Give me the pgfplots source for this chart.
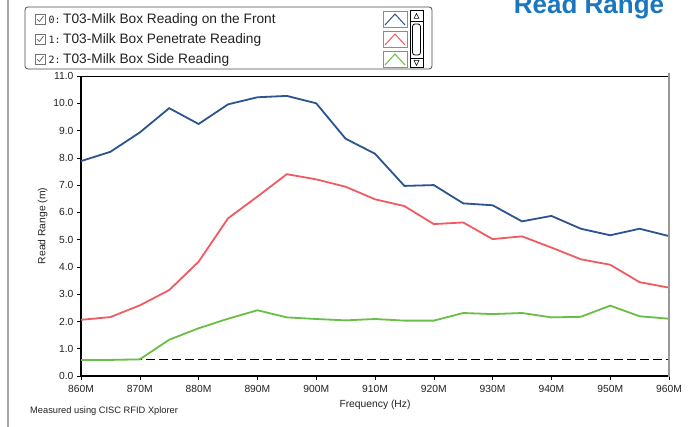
\documentclass[border=0pt]{standalone}
\usepackage{pgfplots}
\pgfplotsset{compat=1.18}
\usepackage{fontspec}
\setmainfont{Liberation Sans}
\newfontfamily\monofont{DejaVu Sans Mono}
\definecolor{cblue}{HTML}{2B5490}
\definecolor{cred}{HTML}{EF5B61}
\definecolor{cgreen}{HTML}{6BBE45}
\definecolor{ctitle}{HTML}{1A76BF}
\definecolor{ctext}{HTML}{222222}
\begin{document}
\begin{tikzpicture}[x=1pt,y=1pt]
\clip (0,0) rectangle (700,426);
\fill[white] (0,0) rectangle (700,426);
\draw[gray!70, line width=1.5pt] (8,-2) -- (8,428);
% title
\node[anchor=base, text=ctitle, font=\fontsize{26}{26}\selectfont\bfseries] at (589,412) {Read Range};
% legend box
\draw[black!70, line width=0.8pt, rounded corners=3pt] (25,357) rectangle (432,419);
\foreach \yb/\num/\txt in {402/0/T03-Milk Box Reading on the Front, 382/1/T03-Milk Box Penetrate Reading, 362/2/T03-Milk Box Side Reading}{
  \draw[black!55, line width=0.6pt] (35,\yb) rectangle (45,\yb+10);
  \draw[black!70, line width=0.6pt] (37,\yb+5) -- (39.5,\yb+2.5) -- (43.5,\yb+8);
  \node[anchor=base west, inner sep=0pt, font=\monofont\fontsize{10}{10}\selectfont, text=ctext] at (48.5,\yb) {\num:};
  \node[anchor=base west, inner sep=0pt, font=\fontsize{13.7}{14}\selectfont, text=ctext] at (63,\yb) {\txt};
}
\foreach \yl/\col in {399/cblue, 379/cred, 359/cgreen}{
  \draw[black!45, line width=0.7pt] (383,\yl) rectangle (407,\yl+16);
  \draw[\col, line width=1pt] (385,\yl+2) -- (395,\yl+13) -- (405,\yl+2);
}
\draw[black, line width=1pt] (410,358) rectangle (423,415);
\draw[black, line width=0.8pt] (410,405) -- (423,405);
\draw[black, line width=0.8pt] (410,368) -- (423,368);
\draw[black, line width=0.5pt] (414,407.5) -- (419,407.5) -- (416.5,412.5) -- cycle;
\draw[black, line width=0.5pt] (414,365.5) -- (419,365.5) -- (416.5,360.5) -- cycle;
\draw[black, line width=0.8pt, rounded corners=2.5pt] (412.5,371) rectangle (420.5,402);
% axis
\begin{axis}[at={(81pt,50pt)}, anchor=south west, scale only axis,
  width=588pt, height=300pt,
  xmin=860, xmax=960, ymin=0, ymax=11,
  axis x line*=bottom, axis y line*=left,
  x axis line style={line width=1.2pt, black},
  y axis line style={line width=1.8pt, black},
  xtick={860,870,...,960},
  xticklabels={860M,870M,880M,890M,900M,910M,920M,930M,940M,950M,960M},
  ytick={0,1,...,11},
  yticklabels={0.0,1.0,2.0,3.0,4.0,5.0,6.0,7.0,8.0,9.0,10.0,11.0},
  tick align=outside, major tick length=4pt,
  tick style={black, line width=0.6pt},
  ticklabel style={font=\fontsize{10.3}{11}\selectfont, text=ctext},
  xticklabel style={yshift=-1.5pt},
  yticklabel style={xshift=0pt},
  xlabel={Frequency (Hz)}, ylabel={Read Range (m)},
  label style={font=\fontsize{10.3}{11}\selectfont, text=ctext},
  xlabel style={yshift=-1pt},
  ylabel style={yshift=-1pt},
  clip=false,
]
\addplot[black, line width=0.7pt, dash pattern=on 9pt off 4pt] coordinates {(860,0.6) (960,0.6)};
\addplot[cgreen, line width=1.8pt] coordinates {
(860,0.59)(865,0.59)(870,0.61)(875,1.33)(880,1.75)(885,2.10)(890,2.41)(895,2.15)(900,2.09)(905,2.04)
(910,2.09)(915,2.03)(920,2.03)(925,2.31)(930,2.27)(935,2.31)(940,2.15)(945,2.17)(950,2.58)(955,2.19)(960,2.10)};
\addplot[cred, line width=1.8pt] coordinates {
(860,2.06)(865,2.16)(870,2.59)(875,3.15)(880,4.19)(885,5.78)(890,6.58)(895,7.40)(900,7.21)(905,6.94)
(910,6.48)(915,6.23)(920,5.57)(925,5.63)(930,5.02)(935,5.12)(940,4.71)(945,4.28)(950,4.08)(955,3.44)(960,3.24)};
\addplot[cblue, line width=1.8pt] coordinates {
(860,7.88)(865,8.22)(870,8.93)(875,9.82)(880,9.24)(885,9.96)(890,10.22)(895,10.27)(900,10.00)(905,8.70)
(910,8.15)(915,6.97)(920,7.00)(925,6.33)(930,6.26)(935,5.67)(940,5.87)(945,5.40)(950,5.16)(955,5.40)(960,5.13)};
\draw[black, line width=0.8pt] (axis cs:860,11) -- (axis cs:960,11);
\draw[gray!80, line width=1.6pt] (axis cs:960,-0.02) -- (axis cs:960,11.1);
\end{axis}
\node[anchor=base west, inner sep=0pt, font=\fontsize{9.3}{10}\selectfont, text=ctext] at (30,13) {Measured using CISC RFID Xplorer};
\end{tikzpicture}
\end{document}
